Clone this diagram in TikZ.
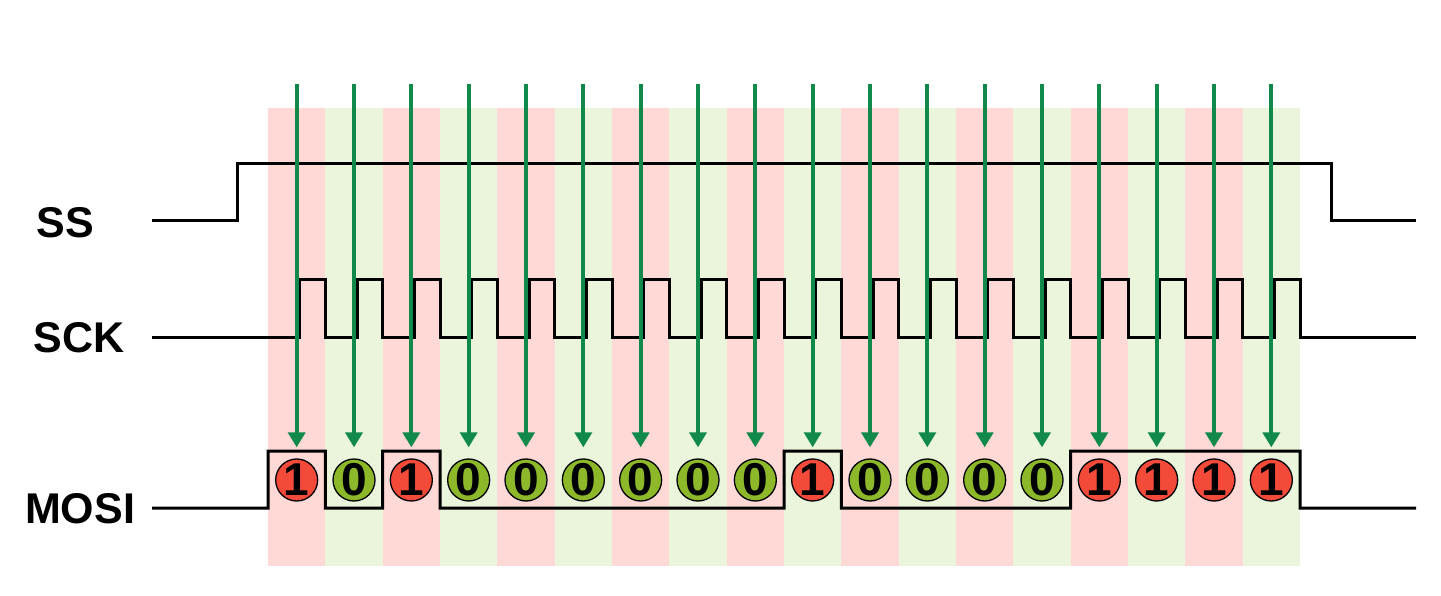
\documentclass[tikz,border=0pt]{standalone}
\usepackage{fontspec}
\setmainfont{Liberation Sans}
\usetikzlibrary{arrows.meta}
\definecolor{bgred}{HTML}{FFD9D6}
\definecolor{bggreen}{HTML}{EAF5DC}
\definecolor{onered}{HTML}{F44A3A}
\definecolor{zerogreen}{HTML}{8CB82A}
\definecolor{arrgreen}{HTML}{10894A}
\tikzset{
  wave/.style={line width=3pt, black, line join=miter},
  sigl/.style={font=\fontsize{43}{43}\selectfont\bfseries, inner sep=0pt},
  bitone/.style={circle, draw=black, line width=1.3pt, fill=onered, minimum size=42pt, inner sep=0pt, font=\fontsize{46}{46}\selectfont\bfseries},
  bitzero/.style={bitone, fill=zerogreen},
  clkarr/.style={arrgreen, line width=4pt, -{Triangle[width=17pt,length=15pt]}, shorten >=11pt},
}
\begin{document}
\begin{tikzpicture}[x=1pt,y=-1pt]
\useasboundingbox (0,0) rectangle (1441,596);
% background columns
\foreach \i in {0,...,17} {
  \pgfmathsetmacro{\xl}{268+57.333*\i}
  \pgfmathsetmacro{\xr}{268+57.333*(\i+1)}
  \pgfmathparse{mod(\i,2)==0 ? "bgred" : "bggreen"}
  \fill[\pgfmathresult] (\xl,108) rectangle (\xr,566);
}
% labels
\node[sigl] (lss) at (65,223) {SS};
\node[sigl] (lsck) at (79,338) {SCK};
\node[sigl] (lmosi) at (80,509) {MOSI};
% SS
\draw[wave] (152,221) -- (237,221) -- (237,164) -- (1331,164) -- (1331,221) -- (1416,221);
% SCK
\draw[wave] (152,337) foreach \i in {0,...,17} {
  -- ({268+57.333*\i+31.67},337) -- ({268+57.333*\i+31.67},280)
  -- ({268+57.333*(\i+1)},280) -- ({268+57.333*(\i+1)},337)
} -- (1416,337);
% MOSI
\draw[wave] (152,508) -- (268,508) foreach \i/\b in {0/1,1/0,2/1,3/0,4/0,5/0,6/0,7/0,8/0,9/1,10/0,11/0,12/0,13/0,14/1,15/1,16/1,17/1} {
  -- ({268+57.333*\i},{508-57*\b}) -- ({268+57.333*(\i+1)},{508-57*\b})
} -- (1300,508) -- (1416,508);
% bits and arrows
\foreach \i/\b in {0/1,1/0,2/1,3/0,4/0,5/0,6/0,7/0,8/0,9/1,10/0,11/0,12/0,13/0,14/1,15/1,16/1,17/1} {
  \pgfmathsetmacro{\xc}{268+57.333*\i+28.667}
  \ifnum\b=1
    \node[bitone] (b\i) at (\xc,480) {1};
  \else
    \node[bitzero] (b\i) at (\xc,480) {0};
  \fi
  \coordinate (t\i) at (\xc,84);
  \draw[clkarr] (t\i) -- (b\i.north);
}
\end{tikzpicture}
\end{document}
